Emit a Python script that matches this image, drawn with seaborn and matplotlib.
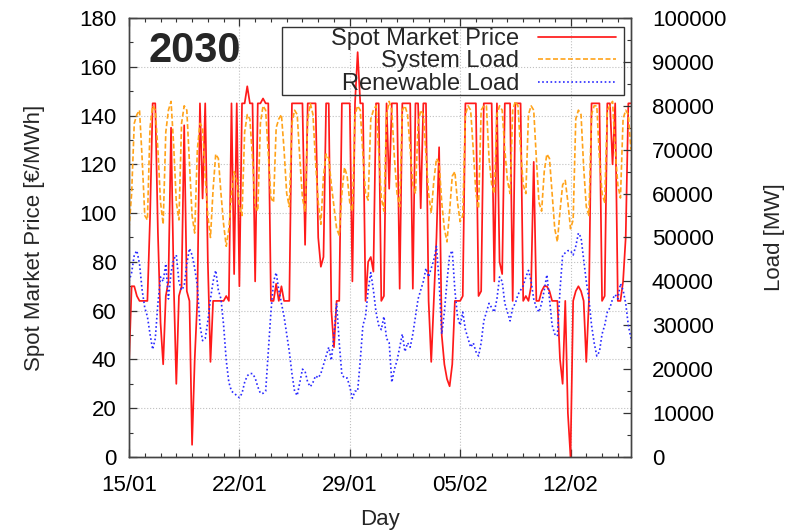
import matplotlib
matplotlib.use("Agg")
import matplotlib.pyplot as plt
import matplotlib.dates as mdates
from matplotlib.patches import Rectangle
from matplotlib.ticker import MultipleLocator
import pandas as pd
import seaborn as sns

# 4-hourly samples (00, 04, 08, 12, 16, 20 h), one row per day starting 15/01
spot_price = [
    38, 70, 70, 66, 64, 64,
    64, 64, 98, 145, 145, 92,
    55, 38, 66, 72, 135, 72,
    30, 66, 70, 136, 68, 64,
    5, 40, 64, 145, 106, 145,
    80, 39, 64, 64, 64, 64,
    64, 66, 64, 145, 75, 145,
    70, 145, 145, 152, 145, 145,
    72, 145, 145, 147, 145, 145,
    64, 64, 71, 64, 70, 64,
    64, 64, 145, 145, 145, 145,
    145, 87, 145, 145, 145, 145,
    90, 78, 82, 145, 145, 60,
    45, 64, 64, 145, 145, 145,
    145, 72, 145, 166, 145, 145,
    64, 80, 82, 76, 145, 145,
    64, 66, 145, 110, 145, 145,
    145, 69, 145, 145, 145, 145,
    69, 145, 145, 102, 145, 145,
    64, 39, 64, 90, 127, 50,
    38, 32, 29, 38, 64, 64,
    64, 66, 145, 145, 145, 145,
    145, 66, 68, 145, 145, 145,
    145, 72, 145, 80, 75, 145,
    145, 145, 64, 145, 145, 145,
    64, 66, 64, 70, 121, 64,
    64, 68, 70, 70, 68, 64,
    64, 64, 40, 30, 64, 18,
    0, 64, 68, 70, 68, 64,
    39, 64, 145, 145, 145, 145,
    64, 66, 145, 145, 120, 145,
    64, 64, 72, 90, 145, 145,
]

system_load = [
    52000, 60000, 76000, 78000, 79000, 68000,
    55000, 54000, 75000, 80000, 79000, 70000,
    58000, 53000, 74000, 79000, 81000, 71000,
    58000, 54000, 76000, 80000, 79000, 67000,
    55000, 51000, 70000, 76000, 75000, 64000,
    55000, 50000, 61000, 69000, 68000, 60000,
    53000, 48000, 52000, 60000, 65000, 63000,
    57000, 55000, 74000, 78000, 77000, 68000,
    57000, 56000, 76000, 80000, 79000, 69000,
    59000, 58000, 75000, 77000, 78000, 70000,
    60000, 57000, 76000, 79000, 78000, 68000,
    59000, 56000, 77000, 80500, 78000, 67000,
    58000, 53000, 64000, 69000, 68000, 62000,
    57000, 52000, 50500, 60000, 66000, 64000,
    58000, 56000, 78000, 80000, 79000, 69000,
    60000, 58500, 77000, 79000, 80000, 70000,
    59000, 56000, 78000, 81000, 79000, 68000,
    60000, 57000, 79000, 80000, 78000, 70000,
    62000, 60000, 76000, 79000, 78000, 69000,
    60000, 55600, 63000, 68000, 67000, 58000,
    52000, 49000, 56000, 64000, 65000, 58000,
    53600, 55000, 78000, 80000, 79000, 70000,
    60000, 56600, 79000, 80000, 80000, 68000,
    62000, 60000, 78000, 80000, 79000, 70000,
    63000, 60000, 79000, 81000, 80000, 70000,
    62000, 60000, 78000, 80000, 79000, 68000,
    58000, 56000, 65000, 69000, 68000, 60000,
    52000, 49000, 56000, 62000, 63000, 58000,
    52000, 54000, 77000, 79000, 78000, 66000,
    57000, 55000, 78000, 80000, 80000, 68000,
    60000, 58000, 79000, 80000, 81000, 70000,
    62000, 59000, 77000, 79000, 78000, 70000,
]

renewable_load = [
    40000, 42000, 46000, 47000, 44000, 38000,
    34000, 32000, 28000, 24500, 27000, 35000,
    41000, 40000, 44000, 36000, 42000, 45000,
    46000, 40000, 38000, 39000, 44000, 47500,
    46000, 43000, 39000, 30000, 26500, 27000,
    31000, 36000, 40000, 42500, 38000, 36000,
    30000, 22000, 17000, 15000, 14500, 14000,
    13500, 14500, 17000, 18500, 19000, 19000,
    18000, 16000, 14500, 14500, 15000, 24000,
    33000, 40000, 42000, 38000, 35000, 32000,
    28000, 24000, 19000, 15000, 14000, 17000,
    20000, 19500, 17000, 16000, 17000, 18500,
    18000, 19000, 21000, 23000, 25000, 22000,
    28000, 35000, 26000, 18700, 18000, 18000,
    16000, 13400, 15000, 15000, 22000, 30000,
    32000, 38000, 42000, 38000, 33000, 30000,
    29000, 32000, 27000, 26000, 17000, 20000,
    22000, 25000, 28000, 24000, 26000, 25000,
    28000, 32000, 36000, 38000, 40000, 43000,
    41000, 43000, 45000, 48000, 40000, 28000,
    33000, 40000, 46000, 47000, 38000, 32000,
    30000, 33000, 29000, 27000, 25000, 26000,
    24000, 23000, 26000, 31000, 33000, 35000,
    34000, 33000, 36000, 41000, 40000, 35000,
    33000, 31000, 34000, 35000, 37000, 38000,
    39000, 41000, 42500, 40000, 36000, 34000,
    33000, 35000, 38000, 41500, 36000, 30000,
    28000, 27500, 38000, 46000, 46500, 47000,
    47000, 46000, 48000, 51000, 50000, 45000,
    40000, 36000, 30000, 26000, 23000, 24000,
    28000, 30000, 33000, 34000, 36000, 37000,
    36000, 39500, 38000, 35000, 30000, 27000,
]

date_ticks = ["2030-01-15", "2030-01-22", "2030-01-29", "2030-02-05", "2030-02-12"]

times = pd.date_range("2030-01-15", periods=len(spot_price), freq="4h")
df = pd.DataFrame({"time": times, "price": spot_price,
                   "system": system_load, "renewable": renewable_load})

sns.set_style("ticks")
plt.rcParams["font.family"] = ["Liberation Sans", "DejaVu Sans"]

fig, ax = plt.subplots(figsize=(7.89, 5.31), dpi=100)
fig.subplots_adjust(left=0.1635, right=0.7997, bottom=0.1394, top=0.9661)
ax2 = ax.twinx()

sns.lineplot(data=df, x="time", y="price", ax=ax, color="#ff1a1a", lw=1.25,
             legend=False)
sns.lineplot(data=df, x="time", y="system", ax=ax2, color="#ffa31a", lw=1.2,
             ls=(0, (3, 1.5)), legend=False)
sns.lineplot(data=df, x="time", y="renewable", ax=ax2, color="#2a2aff", lw=1.2,
             ls=(0, (1, 1.5)), legend=False)

ax.set_xlim(times[0], times[-1])
ax.set_ylim(0, 180)
ax2.set_ylim(0, 100000)

ax.set_xticks(pd.to_datetime(date_ticks))
ax.xaxis.set_major_formatter(mdates.DateFormatter("%d/%m"))
ax.xaxis.set_minor_locator(mdates.DayLocator())
ax.yaxis.set_major_locator(MultipleLocator(20))
ax.yaxis.set_minor_locator(MultipleLocator(10))
ax2.yaxis.set_major_locator(MultipleLocator(10000))
ax2.yaxis.set_minor_locator(MultipleLocator(5000))

ax.tick_params(which="both", direction="in", top=True, right=False,
               labelsize=16, colors="#333333", labelcolor="black")
ax.tick_params(axis="y", pad=9)
ax.tick_params(axis="x", pad=13)
ax.tick_params(which="major", length=6, width=0.9)
ax.tick_params(which="minor", length=3, width=0.8)
ax2.tick_params(which="both", direction="in", labelsize=16, colors="#333333",
                labelcolor="black", pad=15)
ax2.tick_params(which="major", length=6, width=0.9)
ax2.tick_params(which="minor", length=3, width=0.8)

ax.grid(which="major", ls=":", color="#c0c0c0", lw=0.8)
for a in (ax, ax2):
    for s in a.spines.values():
        s.set_color("#444444")
        s.set_linewidth(1.0)

ax.set_xlabel("Day", fontsize=16, labelpad=9)
ax.set_ylabel("Spot Market Price [€/MWh]", fontsize=16, labelpad=25)
ax2.set_ylabel("Load [MW]", fontsize=16, labelpad=27)

ax.text(0.038, 0.9, "2030", transform=ax.transAxes, fontsize=30,
        fontweight="bold", va="baseline", ha="left")

handles = [ax.get_lines()[0]] + ax2.get_lines()[:2]
labels = ["Spot Market Price", "System Load", "Renewable Load"]
leg = ax2.legend(handles, labels, loc="upper right", bbox_to_anchor=(0.98, 0.988),
                 markerfirst=False, fontsize=17, handlelength=3.3,
                 handletextpad=0.8, labelspacing=0.02, borderpad=0.2,
                 borderaxespad=0, frameon=False)
# gnuplot-style key box, wider than its contents
ax2.add_patch(Rectangle((0.305, 0.825), 0.681, 0.154, transform=ax2.transAxes,
                        fill=False, edgecolor="#333333", lw=1.0, zorder=6))

fig.savefig("out.png", dpi=100)
